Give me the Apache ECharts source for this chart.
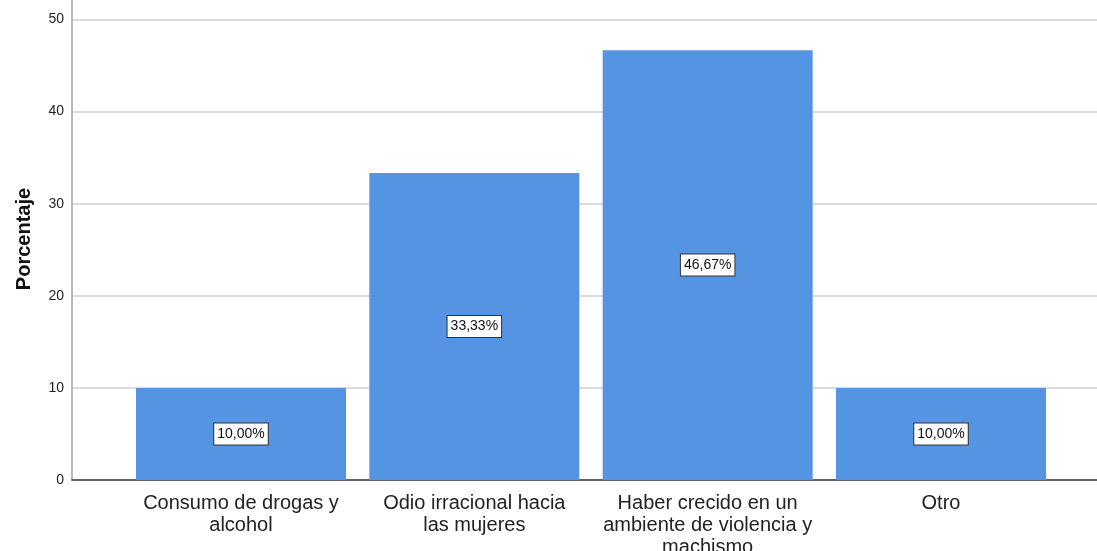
<!DOCTYPE html>
<html>
<head>
<meta charset="utf-8">
<script src="https://cdn.jsdelivr.net/npm/echarts@6/dist/echarts.min.js"></script>
<style>
  html, body { margin: 0; padding: 0; background: #ffffff; }
  #chart { width: 1097px; height: 551px; }
</style>
</head>
<body>
<div id="chart"></div>
<script>
// Categories (reasons) and their percentages
const categories = [
  'Consumo de drogas y\nalcohol',
  'Odio irracional hacia\nlas mujeres',
  'Haber crecido en un\nambiente de violencia y\nmachismo',
  'Otro'
];
const percentages = [10.00, 33.33, 46.67, 10.00];
const axisTitle = 'Porcentaje';

const FONT = '"Liberation Sans", Arial, sans-serif';
const Y_MAX = 52.33;   // axis top sits just above the 50 line
const Y_STEP = 10;

const chart = echarts.init(document.getElementById('chart'), null, { renderer: 'canvas' });

const pct = v => v.toFixed(2).replace('.', ',') + '%';

chart.setOption({
  animation: false,
  backgroundColor: '#ffffff',
  grid: [
    // frame: y axis, gridlines and baseline
    { left: 72, right: 0, top: -2, bottom: 71, containLabel: false, outerBoundsMode: 'none' },
    // bars and category labels
    { left: 124.33, right: 39.33, top: -2, bottom: 71, containLabel: false, outerBoundsMode: 'none' }
  ],
  xAxis: [
    {
      gridIndex: 0, type: 'value', min: 0, max: 1,
      axisLine: { show: true, onZero: false, lineStyle: { color: '#3a3a3a', width: 1.5 } },
      axisTick: { show: false }, axisLabel: { show: false }, splitLine: { show: false }
    },
    {
      gridIndex: 1, type: 'category', data: categories,
      axisLine: { show: false }, axisTick: { show: false }, splitLine: { show: false },
      axisLabel: {
        interval: 0, margin: 12, color: '#222222',
        fontFamily: FONT, fontSize: 20, lineHeight: 22, align: 'center'
      }
    }
  ],
  yAxis: [
    {
      gridIndex: 0, type: 'value', min: 0, max: Y_MAX, interval: Y_STEP,
      name: axisTitle, nameLocation: 'middle', nameGap: 38,
      nameTextStyle: { fontFamily: FONT, fontSize: 20, fontWeight: 'bold', color: '#111111' },
      axisLine: { show: true, lineStyle: { color: '#a0a0a0', width: 1.5 } },
      axisTick: { show: false },
      axisLabel: {
        margin: 8, color: '#222222', fontFamily: FONT, fontSize: 14,
        formatter: v => (Math.abs(v % Y_STEP) < 1e-6 ? String(v) : '')
      },
      splitLine: { show: true, lineStyle: { color: '#d0d0d0', width: 1.5 } }
    },
    {
      gridIndex: 1, type: 'value', min: 0, max: Y_MAX, interval: Y_STEP, show: false,
      splitLine: { show: false }
    }
  ],
  series: [
    {
      type: 'bar',
      xAxisIndex: 1, yAxisIndex: 1,
      data: percentages,
      barWidth: 210,
      itemStyle: { color: '#5594e3' },
      label: {
        show: true, position: 'inside',
        formatter: p => pct(p.value),
        fontFamily: FONT, fontSize: 14, color: '#111111',
        backgroundColor: '#ffffff', borderColor: '#333333', borderWidth: 1,
        padding: [4, 3, 3, 3]
      }
    }
  ]
});
</script>
</body>
</html>
